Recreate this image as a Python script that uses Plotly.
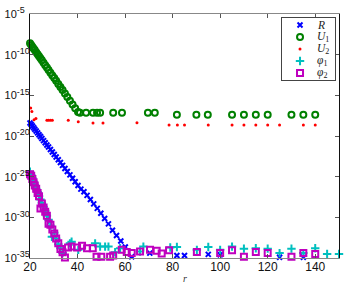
import numpy as np
import plotly.graph_objects as go

# ---------------- data (log10 of the values) ----------------
R_r = [20, 20.5, 21, 21.5, 22, 22.6, 23.2, 23.8, 24.4, 25, 25.7, 26.4, 27.1, 27.8, 28.6, 29.4,
       30.2, 31, 31.9, 32.8, 33.7, 34.7, 35.7, 36.8, 37.9, 39, 40.2, 41.4, 42.7, 44, 45.4, 46.8,
       48.3, 49.8, 51.4, 53, 54.7, 56.4, 58.2, 60.1, 62.8, 70.4, 81.8, 85, 95, 100, 125, 135]
R_log = [-18.40, -18.59, -18.78, -18.97, -19.16, -19.39, -19.62, -19.84, -20.07, -20.30, -20.57,
         -20.83, -21.10, -21.36, -21.67, -21.97, -22.28, -22.58, -22.92, -23.26, -23.61, -23.99,
         -24.37, -24.78, -25.20, -25.62, -26.08, -26.53, -26.85, -27.30, -27.80, -28.35, -28.90,
         -29.50, -30.15, -30.80, -31.59, -32.23, -32.92, -33.64, -34.85, -34.40, -34.70, -34.70,
         -34.55, -34.60, -34.90, -34.90]

U1_r = [20, 20.5, 21, 21.5, 22, 22.6, 23.2, 23.8, 24.4, 25, 25.7, 26.4, 27.1, 27.8, 28.6, 29.4,
        30.2, 31, 31.9, 32.8, 33.7, 34.7, 35.7, 36.8, 37.9, 39, 40.2,
        41, 43.6, 46.5, 48.2, 49.5, 55, 58.7, 69.6, 72.5, 81.8, 90, 94.8, 105, 110, 115, 120,
        130, 135, 140]
U1_log = [-8.60, -8.81, -9.02, -9.23, -9.44, -9.69, -9.94, -10.20, -10.45, -10.70, -10.99, -11.29,
          -11.58, -11.88, -12.21, -12.55, -12.88, -13.22, -13.60, -13.98, -14.35, -14.77, -15.19,
          -15.66, -16.12, -16.58, -17.05,
          -17.15, -17.15, -17.15, -17.15, -17.15, -17.15, -17.15, -17.15, -17.15, -17.40, -17.40,
          -17.40, -17.40, -17.40, -17.40, -17.40, -17.40, -17.40, -17.40]

U2_r = [20.3, 20.8, 21.7, 22.5, 27.1, 27.8, 28.6, 29.4, 36.1, 40.3, 46.5, 50.7, 65, 78.5, 82,
        85, 95, 105, 110, 115, 120, 125, 135, 140]
U2_log = [-16.55, -17.00, -18.00, -17.85, -18.05, -18.05, -18.05, -18.05, -18.05, -18.25, -18.40,
          -18.40, -18.37, -18.65, -18.65, -18.65, -18.65, -18.65, -18.65, -18.65, -18.65, -18.65,
          -18.65, -18.65]

PHI1_r = [20, 20.5, 21, 21.5, 22, 22.6, 23.2, 23.8, 24.4, 25, 25.7, 26.4, 27.1, 27.8, 28.6, 29.2,
          30.2, 31, 31.9, 32.8, 33.7, 36.8, 37.5, 40.3, 47.4, 49.5, 51.6, 53, 55.8, 57.9, 66.3,
          67.7, 79, 81.8, 90.2, 95, 100, 105, 110, 115, 120, 125, 130, 135, 140, 145, 150]
PHI1_log = [-24.40, -24.80, -25.20, -25.60, -26.00, -26.50, -26.90, -27.40, -27.80, -28.20, -28.70,
            -29.20, -29.80, -30.30, -31.00, -32.40, -31.90, -32.60, -33.30, -33.80, -34.40, -33.20,
            -33.00, -34.00, -33.20, -33.60, -33.60, -33.60, -34.30, -33.80, -34.20, -33.60, -33.70,
            -33.65, -34.00, -33.65, -34.00, -33.60, -33.85, -33.80, -33.85, -34.40, -33.85, -34.40,
            -33.80, -34.50, -34.50]

PHI2_r = [20, 20.5, 21, 21.5, 22, 22.6, 23.2, 23.8, 24.4, 25, 25.7, 26.4, 27.1, 27.8, 28.6, 29.4,
          30.2, 31, 31.9, 32.8, 33.7, 34.7, 36, 37.5, 39.8, 41.9, 44, 46.4, 48, 50, 53.7, 55,
          58.6, 60.7, 62.8, 66.3, 70.5, 73.3, 75.4, 78.5, 90.2, 100, 105, 110, 115, 120, 130,
          135, 140]
PHI2_log = [-24.70, -24.90, -25.30, -25.70, -26.10, -26.50, -27.00, -27.40, -28.90, -28.30, -28.80,
            -29.30, -29.80, -30.80, -30.90, -31.50, -32.00, -32.60, -33.20, -33.90, -34.30, -34.95,
            -33.70, -33.60, -33.70, -33.50, -33.80, -33.80, -34.85, -34.85, -34.85, -34.70, -34.00,
            -34.25, -34.40, -34.20, -34.00, -34.10, -34.45, -34.05, -34.25, -34.40, -34.05, -34.85,
            -34.25, -34.40, -34.85, -34.40, -34.50]

Y_TICK_EXP = [-35, -30, -25, -20, -15, -10, -5]
X_TICKS = [20, 40, 60, 80, 100, 120, 140]

NAMES = ["<i>R</i>", "<i>U</i><sub>1</sub>", "<i>U</i><sub>2</sub>",
         "<i>φ</i><sub>1</sub>", "<i>φ</i><sub>2</sub>"]

# ---------------- styles ----------------
BLUE, GREEN, RED, CYAN, MAGENTA = "#0000ff", "#008000", "#ff0000", "#00bfbf", "#bf00bf"
markers = [
    dict(symbol="x-thin", size=5, color=BLUE, line=dict(width=2, color=BLUE)),
    dict(symbol="circle-open", size=6, color=GREEN, line=dict(width=2, color=GREEN)),
    dict(symbol="circle", size=3, color=RED, line=dict(width=0)),
    dict(symbol="cross-thin", size=6, color=CYAN, line=dict(width=2, color=CYAN)),
    dict(symbol="square-open", size=6, color=MAGENTA, line=dict(width=2, color=MAGENTA)),
]

series = [(R_r, R_log), (U1_r, U1_log), (U2_r, U2_log), (PHI1_r, PHI1_log), (PHI2_r, PHI2_log)]

fig = go.Figure()
for (rr, lg), mk, nm in zip(series, markers, NAMES):
    fig.add_trace(go.Scatter(x=rr, y=10.0 ** np.array(lg), mode="markers", marker=mk,
                             name=nm, showlegend=False, cliponaxis=False))

# manual legend (glyphs in a small inset subplot)
for i, (mk, nm) in enumerate(zip(markers, NAMES)):
    fig.add_trace(go.Scatter(x=[0.34], y=[i], mode="markers", marker=mk, xaxis="x2", yaxis="y2",
                             showlegend=False, hoverinfo="skip"))
    fig.add_annotation(x=0.62, y=i, xref="x2", yref="y2", text=nm, showarrow=False,
                       xanchor="left", yanchor="middle",
                       font=dict(family="Liberation Serif, serif", size=11.5, color="#222"))

tick_font = dict(family="Liberation Sans, Arial, sans-serif", size=12, color="#111")
ytick_font = dict(family="Liberation Sans, Arial, sans-serif", size=11, color="#111")


def ylabel(e):
    s = str(e)
    pad = "\u2007" * (3 - len(s))
    return "10<sup><span style='font-size:9px'>%s%s</span></sup>" % (s, pad)


fig.update_layout(
    width=346, height=284,
    margin=dict(l=30, r=7, t=14, b=26),
    paper_bgcolor="white", plot_bgcolor="white",
    xaxis=dict(range=[20, 150], tickvals=X_TICKS, ticks="inside", ticklen=4, tickcolor="#555",
               showline=True, linecolor="#888", linewidth=1, mirror="ticks", showgrid=False,
               zeroline=False, tickfont=tick_font, automargin=False, ticklabelstandoff=-2),
    yaxis=dict(type="log", range=[-35, -5], tickvals=[10.0 ** e for e in Y_TICK_EXP],
               ticktext=[ylabel(e) for e in Y_TICK_EXP], ticks="inside", ticklen=4,
               tickcolor="#555", showline=True, linecolor="#111", linewidth=1, mirror="ticks",
               showgrid=False, zeroline=False, tickfont=ytick_font, automargin=False,
               ticklabelstandoff=-3),
    xaxis2=dict(domain=[0.8155, 0.9871], range=[0, 1], anchor="y2", showline=True, mirror=True,
                linecolor="#444", linewidth=1, showticklabels=False, ticks="", showgrid=False,
                zeroline=False, fixedrange=True),
    yaxis2=dict(domain=[0.7295, 0.9836], range=[4.583, -0.583], anchor="x2", showline=True,
                mirror=True, linecolor="#444", linewidth=1, showticklabels=False, ticks="",
                showgrid=False, zeroline=False, fixedrange=True),
)

fig.add_annotation(text="<i>r</i>", xref="paper", yref="paper", x=0.502, y=-0.082,
                   showarrow=False, xanchor="center", yanchor="middle",
                   font=dict(family="Liberation Serif, serif", size=10, color="#333"))

fig.write_html("out.html", config={"displayModeBar": False},
               post_script="document.body.style.margin='0';document.body.style.overflow='hidden';")
